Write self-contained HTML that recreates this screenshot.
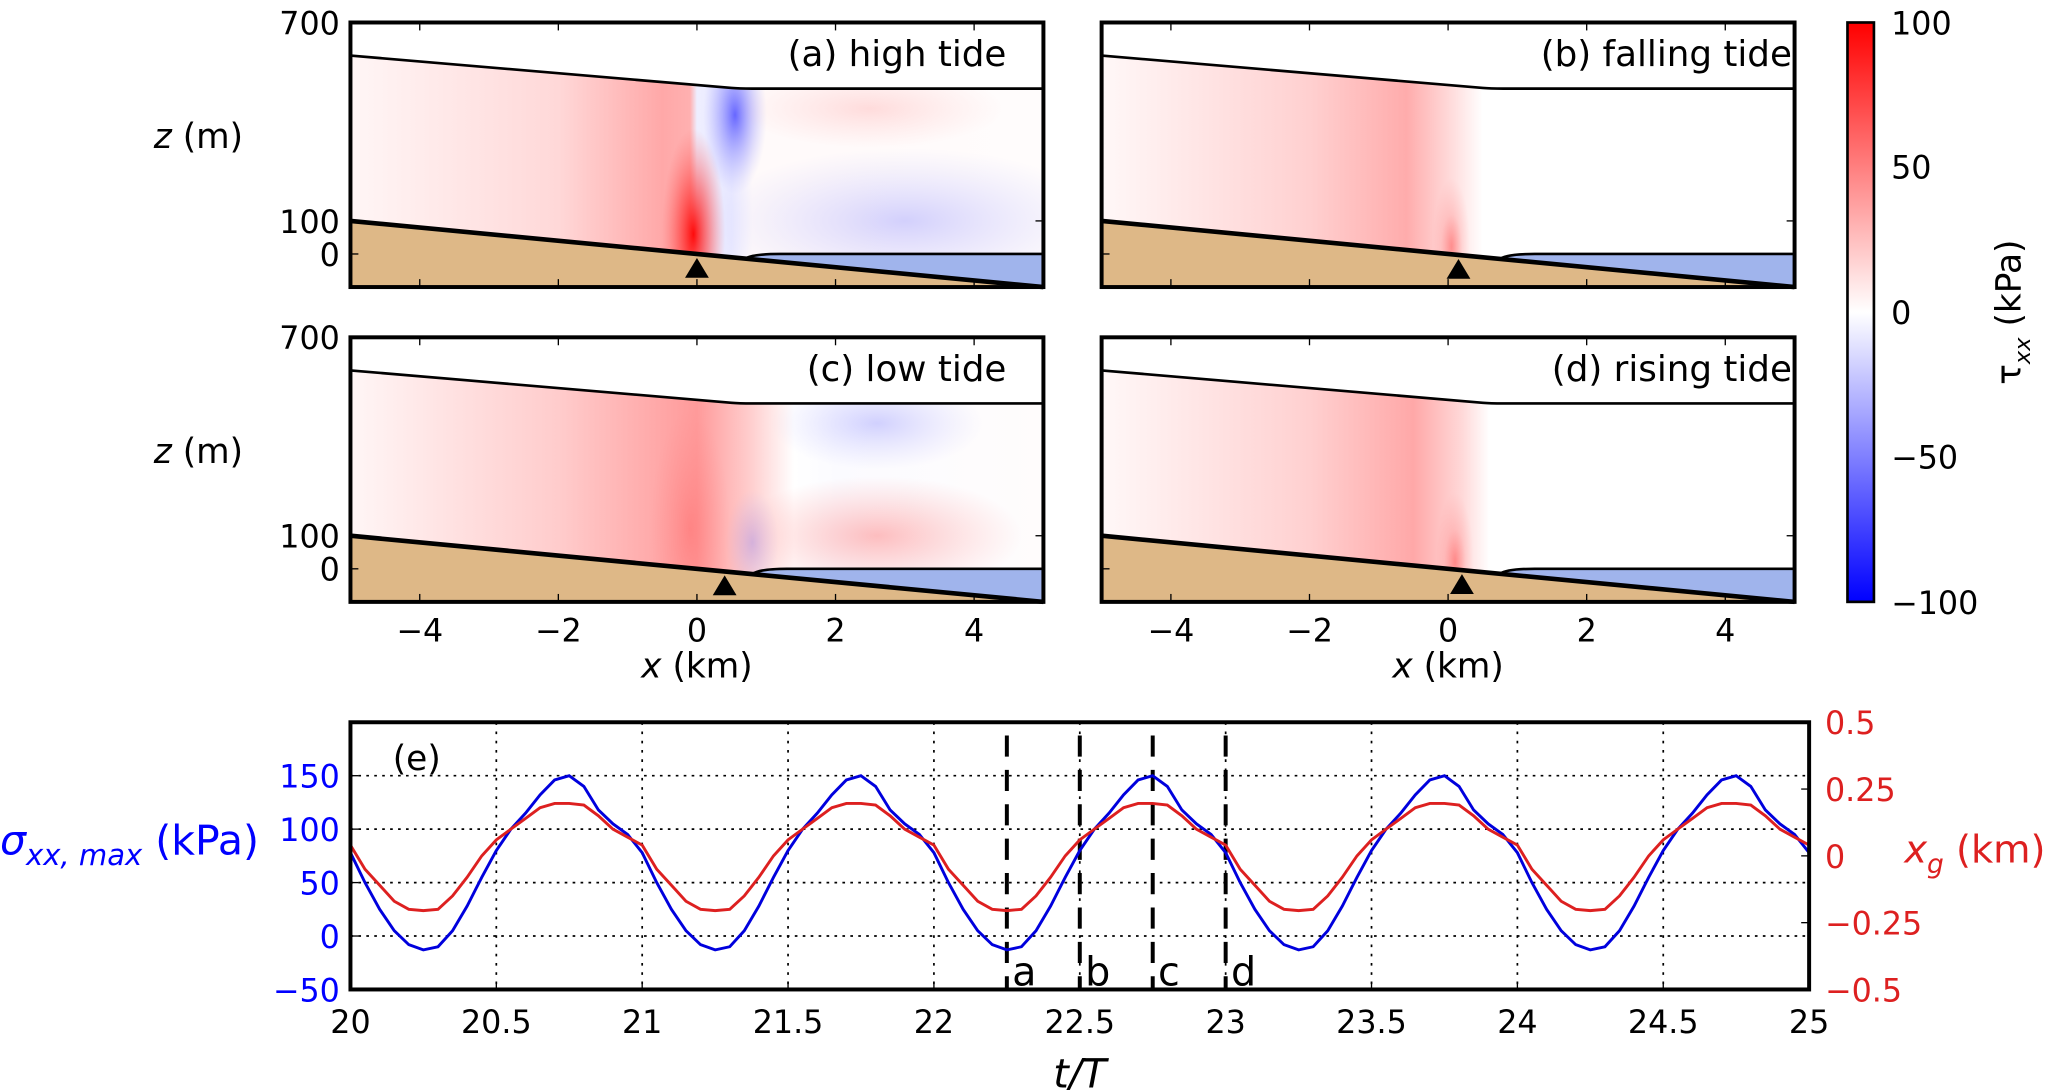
<!DOCTYPE html>
<html><head><meta charset="utf-8"><style>
html,body{margin:0;padding:0;background:#fff;}
svg{display:block;font-family:"DejaVu Sans","Liberation Sans",sans-serif;}
</style></head><body>
<svg id="fig" width="2067" height="1090" viewBox="0 0 1563 824" preserveAspectRatio="none" xmlns="http://www.w3.org/2000/svg">
<defs>
<linearGradient id="cbar" x1="0" y1="0" x2="0" y2="1">
<stop offset="0" stop-color="#ff0000"/><stop offset="0.5" stop-color="#ffffff"/><stop offset="1" stop-color="#0000ff"/>
</linearGradient>
<radialGradient id="redblob"><stop offset="0" stop-color="#ff0000" stop-opacity="0.95"/><stop offset="0.5" stop-color="#ff3030" stop-opacity="0.5"/><stop offset="1" stop-color="#ff6060" stop-opacity="0"/></radialGradient>
<radialGradient id="blueblob"><stop offset="0" stop-color="#3a3aff" stop-opacity="0.75"/><stop offset="0.6" stop-color="#8888ff" stop-opacity="0.35"/><stop offset="1" stop-color="#aaaaff" stop-opacity="0"/></radialGradient>
<radialGradient id="lblueblob"><stop offset="0" stop-color="#8080ff" stop-opacity="0.35"/><stop offset="1" stop-color="#aaaaff" stop-opacity="0"/></radialGradient>
<radialGradient id="lredblob"><stop offset="0" stop-color="#ff6060" stop-opacity="0.4"/><stop offset="1" stop-color="#ff8080" stop-opacity="0"/></radialGradient>
</defs>
<g id="panels"></g>
<g id="cb">
<rect x="1397" y="17" width="20" height="438" fill="url(#cbar)" stroke="#000" stroke-width="2"/>
<text x="1430" y="26" font-size="24">100</text>
<text x="1430" y="135" font-size="24">50</text>
<text x="1430" y="245" font-size="24">0</text>
<text x="1430" y="354" font-size="24">−50</text>
<text x="1430" y="464" font-size="24">−100</text>
<text transform="translate(1528,236) rotate(-90)" text-anchor="middle" font-size="26">τ<tspan font-size="17" dy="7" font-style="italic">xx</tspan><tspan dy="-7"> (kPa)</tspan></text>
</g>
<g id="pe"></g>
</svg>
<script>
// ---- panel (e) data ----
const tValues = [];
const sigmaValues = [
78,50,25,5,-8,-13,-10,5,28,55,80,100,115,132,146,150,140,118,105,95,
78,50,25,5,-8,-13,-10,5,28,55,80,100,115,132,146,150,140,118,105,95,
78,50,25,5,-8,-13,-10,5,28,55,80,100,115,132,146,150,140,118,105,95,
78,50,25,5,-8,-13,-10,5,28,55,80,100,115,132,146,150,140,118,105,95,
78,50,25,5,-8,-13,-10,5,28,55,80,100,115,132,146,150,140,118,105,95,
78];
const xgValues = [
0.04,-0.05,-0.11,-0.17,-0.2,-0.205,-0.2,-0.15,-0.08,0.0,0.06,0.1,0.14,0.18,0.196,0.196,0.19,0.15,0.1,0.07,
0.04,-0.05,-0.11,-0.17,-0.2,-0.205,-0.2,-0.15,-0.08,0.0,0.06,0.1,0.14,0.18,0.196,0.196,0.19,0.15,0.1,0.07,
0.04,-0.05,-0.11,-0.17,-0.2,-0.205,-0.2,-0.15,-0.08,0.0,0.06,0.1,0.14,0.18,0.196,0.196,0.19,0.15,0.1,0.07,
0.04,-0.05,-0.11,-0.17,-0.2,-0.205,-0.2,-0.15,-0.08,0.0,0.06,0.1,0.14,0.18,0.196,0.196,0.19,0.15,0.1,0.07,
0.04,-0.05,-0.11,-0.17,-0.2,-0.205,-0.2,-0.15,-0.08,0.0,0.06,0.1,0.14,0.18,0.196,0.196,0.19,0.15,0.1,0.07,
0.04];
for (let i = 0; i < sigmaValues.length; i++) tValues.push(20 + i * 0.05);
const tTicks = [20,20.5,21,21.5,22,22.5,23,23.5,24,24.5,25];
const tTickLabels = ["20","20.5","21","21.5","22","22.5","23","23.5","24","24.5","25"];
const sigmaTicks = [-50,0,50,100,150];
const xgTicks = [-0.5,-0.25,0,0.25,0.5];
const xgTickLabels = ["−0.5","−0.25","0","0.25","0.5"];
const snapTimes = [22.25,22.5,22.75,23];
const snapLabels = ["a","b","c","d"];

// ---- panels a-d data ----
const panelTitles = ["(a) high tide","(b) falling tide","(c) low tide","(d) rising tide"];
const groundingX = [0.7,0.75,0.8,0.75];
const markerX = [0,0.15,0.4,0.2];
const xTicks = [-4,-2,0,2,4];

const NS = "http://www.w3.org/2000/svg";
function mk(tag, attrs, parent){const e=document.createElementNS(NS,tag);for(const k in attrs)e.setAttribute(k,attrs[k]);parent.appendChild(e);return e;}

const panelsG = document.getElementById('panels');
const pos = [[265,17],[833,17],[265,255],[833,255]];
const W = 524, H = 200;
const stops = [
 [[0,"#fff6f6"],[0.3,"#ffd8d8"],[0.45,"#ffa8a8"],[0.49,"#ffb0b0"],[0.5,"#eeeeff"],[0.55,"#e8e8ff"],[0.58,"#fffafa"],[0.7,"#fffafa"],[1,"#fffcfc"]],
 [[0,"#fff8f8"],[0.3,"#ffd0d0"],[0.44,"#ffacac"],[0.5,"#ffd8d8"],[0.55,"#ffffff"],[1,"#ffffff"]],
 [[0,"#fff6f6"],[0.3,"#ffcccc"],[0.5,"#ff9a9a"],[0.58,"#ffd0d0"],[0.64,"#ffffff"],[0.7,"#fbfbff"],[1,"#fffcfc"]],
 [[0,"#fff8f8"],[0.3,"#ffd0d0"],[0.45,"#ffa8a8"],[0.52,"#ffd8d8"],[0.56,"#ffffff"],[1,"#ffffff"]]
];
for (let p = 0; p < 4; p++) {
  const [L, T] = pos[p];
  const X = x => L + (x + 5) * W / 10;
  const Z = z => T + (700 - z) * H / 800;
  const g = mk('g', {}, panelsG);
  
  
  const defs = mk('defs', {}, g);
  const lg = mk('linearGradient', {id:'fg'+p, x1:0, y1:0, x2:1, y2:0}, defs);
  stops[p].forEach(s => mk('stop', {offset:s[0], 'stop-color':s[1]}, lg));
  const xg = groundingX[p];
  const icePath = `M${X(-5)},${Z(600)} L${X(0.5)},${Z(502)} Q${X(0.6)},${Z(500)} ${X(0.8)},${Z(500)} L${X(5)},${Z(500)} L${X(5)},${Z(0)} L${X(xg+0.5)},${Z(0)} Q${X(xg+0.1)},${Z(0)} ${X(xg)},${Z(-20*xg)} L${X(-5)},${Z(100)} Z`;
  const cp = mk('clipPath', {id:'ice'+p}, defs);
  mk('path', {d:icePath}, cp);
  mk('rect', {x:L, y:T, width:W, height:H, fill:'#fff'}, g);
  const field = mk('g', {'clip-path':`url(#ice${p})`}, g);
  
  
  mk('rect', {x:L, y:T, width:W, height:H, fill:`url(#fg${p})`}, field);
  if (p === 0) {
    mk('ellipse', {cx:X(-0.05), cy:Z(60), rx:24, ry:80, fill:'url(#redblob)'}, field);
    mk('ellipse', {cx:X(0.55), cy:Z(420), rx:24, ry:60, fill:'url(#blueblob)'}, field);
    mk('ellipse', {cx:X(3), cy:Z(100), rx:150, ry:55, fill:'url(#lblueblob)'}, field);
    mk('ellipse', {cx:X(2.5), cy:Z(440), rx:100, ry:30, fill:'url(#lredblob)', opacity:0.5}, field);
  } else if (p === 2) {
    mk('ellipse', {cx:X(-0.1), cy:Z(120), rx:30, ry:90, fill:'url(#lredblob)'}, field);
    mk('ellipse', {cx:X(0.8), cy:Z(80), rx:20, ry:40, fill:'url(#lblueblob)'}, field);
    mk('ellipse', {cx:X(2.6), cy:Z(440), rx:80, ry:35, fill:'url(#lblueblob)'}, field);
    mk('ellipse', {cx:X(2.6), cy:Z(100), rx:110, ry:45, fill:'url(#lredblob)'}, field);
  } else {
    mk('ellipse', {cx:X(markerX[p]-0.1), cy:Z(30), rx:14, ry:50, fill:'url(#lredblob)'}, field);
    mk('ellipse', {cx:X(markerX[p]-0.1), cy:Z(20), rx:8, ry:25, fill:'url(#lredblob)'}, field);
  }
  const bed = mk('path', {d:`M${X(-5)},${Z(100)} L${X(5)},${Z(-100)} L${X(-5)},${Z(-100)} Z`, fill:'#deb887'}, g);
  
  
  const oc = mk('path', {d:`M${X(xg)},${Z(-20*xg)} Q${X(xg+0.1)},${Z(0)} ${X(xg+0.5)},${Z(0)} L${X(5)},${Z(0)} L${X(5)},${Z(-100)} Z`, fill:'#a0b4ec'}, g);
  
  
  mk('path', {d:`M${X(-5)},${Z(600)} L${X(0.5)},${Z(502)} Q${X(0.6)},${Z(500)} ${X(0.8)},${Z(500)} L${X(5)},${Z(500)}`, fill:'none', stroke:'#000', 'stroke-width':2}, g);
  mk('path', {d:`M${X(xg)},${Z(-20*xg)} Q${X(xg+0.1)},${Z(0)} ${X(xg+0.5)},${Z(0)} L${X(5)},${Z(0)}`, fill:'none', stroke:'#000', 'stroke-width':2}, g);
  mk('line', {x1:X(-5), y1:Z(100), x2:X(5), y2:Z(-100), stroke:'#000', 'stroke-width':3.5}, g);
  const mx = X(markerX[p]), my = Z(-20*markerX[p]) + 3;
  const tri = mk('path', {d:`M${mx},${my} L${mx-9},${my+15} L${mx+9},${my+15} Z`, fill:'#000'}, g);
  
  
  xTicks.forEach(t => {
    mk('line', {x1:X(t), y1:T, x2:X(t), y2:T+6, stroke:'#000', 'stroke-width':1}, g);
    mk('line', {x1:X(t), y1:T+H, x2:X(t), y2:T+H-6, stroke:'#000', 'stroke-width':1}, g);
  });
  [700,100,0].forEach(z => {
    mk('line', {x1:L, y1:Z(z), x2:L+6, y2:Z(z), stroke:'#000', 'stroke-width':1}, g);
    mk('line', {x1:L+W, y1:Z(z), x2:L+W-6, y2:Z(z), stroke:'#000', 'stroke-width':1}, g);
  });
  mk('rect', {x:L, y:T, width:W, height:H, fill:'none', stroke:'#000', 'stroke-width':3}, g);
  const tt = mk('text', {x:L+W-28+(p%2?26:0), y:T+33, 'font-size':27, 'text-anchor':'end'}, g);
  tt.textContent = panelTitles[p];
  
  
  if (p % 2 === 0) {
    [[700,"700"],[100,"100"],[0,"0"]].forEach(([z,s]) => {
      const e = mk('text', {x:L-8, y:Z(z)+9, 'font-size':24, 'text-anchor':'end'}, g); e.textContent = s;
    });
    const zl = mk('text', {x:150, y:T+95, 'font-size':26, 'text-anchor':'middle'}, g);
    zl.innerHTML = '<tspan font-style="italic">z</tspan> (m)';
    
    
  }
  if (p >= 2) {
    xTicks.forEach(t => {
      const e = mk('text', {x:X(t), y:T+H+30, 'font-size':24, 'text-anchor':'middle'}, g);
      e.textContent = t < 0 ? '−' + (-t) : String(t);
    });
    const xl = mk('text', {x:X(0), y:T+H+57, 'font-size':26, 'text-anchor':'middle'}, g);
    xl.innerHTML = '<tspan font-style="italic">x</tspan> (km)';
    
    
  }
}

// ---- panel (e) ----
const pe = document.getElementById('pe');
const EL = 265, ER = 1368, ET = 546, EB = 748;
const tx = t => EL + (t - 20) * (ER - EL) / 5;
const sy = s => EB - (s + 50) * (EB - ET) / 250;
const ry = v => EB - (v + 0.5) * (EB - ET) / 1;
tTicks.slice(1, -1).forEach(t => mk('line', {x1:tx(t), y1:ET, x2:tx(t), y2:EB, stroke:'#000', 'stroke-width':1.3, 'stroke-dasharray':'2,5'}, pe));
sigmaTicks.slice(1).forEach(s => mk('line', {x1:EL, y1:sy(s), x2:ER, y2:sy(s), stroke:'#000', 'stroke-width':1.3, 'stroke-dasharray':'2,4'}, pe));
snapTimes.forEach((t, i) => {
  const l = mk('line', {x1:tx(t), y1:ET+10, x2:tx(t), y2:EB, stroke:'#000', 'stroke-width':3, 'stroke-dasharray':'16,10'}, pe);
  
  
  const e = mk('text', {x:tx(t)+4, y:EB-3, 'font-size':30}, pe); e.textContent = snapLabels[i];
});
const sPts = tValues.map((t, i) => tx(t).toFixed(1) + ',' + sy(sigmaValues[i]).toFixed(1)).join(' ');
const sl = mk('polyline', {points:sPts, fill:'none', stroke:'#0000dd', 'stroke-width':2.2}, pe);


const rPts = tValues.map((t, i) => tx(t).toFixed(1) + ',' + ry(xgValues[i]).toFixed(1)).join(' ');
const rl = mk('polyline', {points:rPts, fill:'none', stroke:'#dd2020', 'stroke-width':2.2}, pe);


mk('rect', {x:EL, y:ET, width:ER-EL, height:EB-ET, fill:'none', stroke:'#000', 'stroke-width':3}, pe);
tTicks.forEach((t, i) => {
  mk('line', {x1:tx(t), y1:EB, x2:tx(t), y2:EB-6, stroke:'#000'}, pe);
  const e = mk('text', {x:tx(t), y:EB+33, 'font-size':24, 'text-anchor':'middle'}, pe); e.textContent = tTickLabels[i];
});
sigmaTicks.forEach(s => {
  mk('line', {x1:EL, y1:sy(s), x2:EL+6, y2:sy(s), stroke:'#000'}, pe);
  const e = mk('text', {x:EL-8, y:sy(s)+9, 'font-size':24, 'text-anchor':'end', fill:'#0000ff'}, pe);
  e.textContent = s < 0 ? '−' + (-s) : String(s);
});
xgTicks.forEach((v, i) => {
  mk('line', {x1:ER, y1:ry(v), x2:ER-6, y2:ry(v), stroke:'#000'}, pe);
  const e = mk('text', {x:ER+12, y:ry(v)+9, 'font-size':24, fill:'#dd2020'}, pe); e.textContent = xgTickLabels[i];
});
const el = mk('text', {x:297, y:582, 'font-size':26}, pe); el.textContent = '(e)';


const tl = mk('text', {x:tx(22.5), y:822, 'font-size':30, 'text-anchor':'middle', 'font-style':'italic'}, pe); tl.textContent = 't/T';


const ll = mk('text', {x:0, y:646, 'font-size':31, fill:'#0000ff'}, pe);
ll.innerHTML = '<tspan font-style="italic">σ</tspan><tspan font-style="italic" font-size="22" dy="8">xx, max</tspan><tspan dy="-8"> (kPa)</tspan>';


const rt = mk('text', {x:1440, y:652, 'font-size':29, fill:'#dd2020'}, pe);
rt.innerHTML = '<tspan font-style="italic">x</tspan><tspan font-style="italic" font-size="20" dy="8">g</tspan><tspan dy="-8"> (km)</tspan>';


</script>
</body></html>
